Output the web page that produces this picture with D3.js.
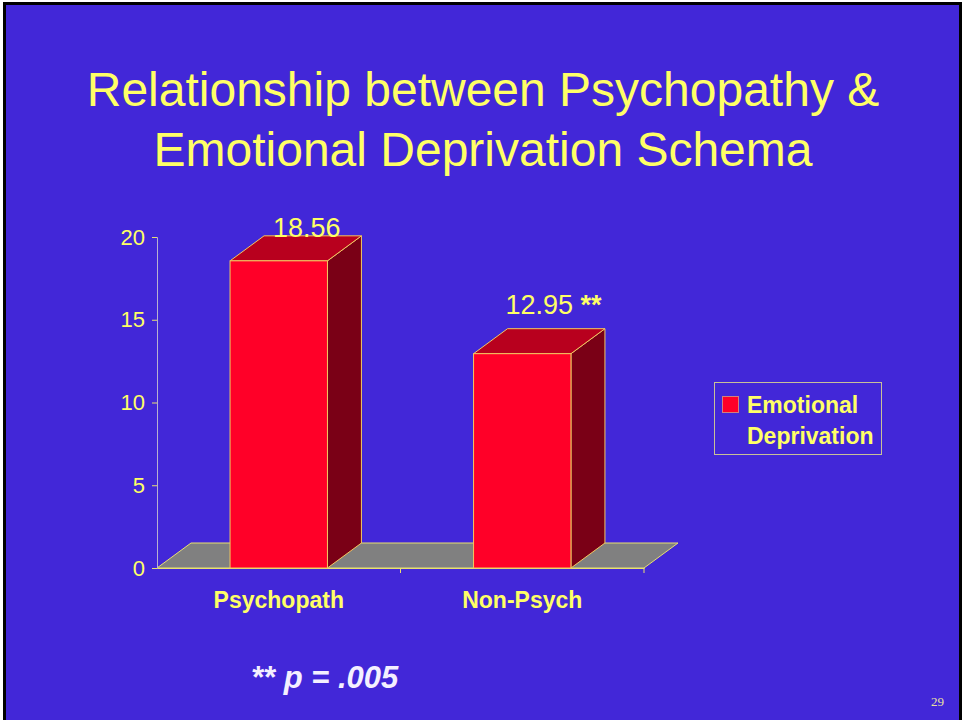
<!DOCTYPE html>
<html>
<head>
<meta charset="utf-8">
<script src="https://cdn.jsdelivr.net/npm/d3@7"></script>
<style>
  body { margin: 0; background: #fff; }
  svg { display: block; font-family: "Liberation Sans", Arial, sans-serif; }
</style>
</head>
<body>
<div id="chart"></div>
<script>
var categories = ["Psychopath", "Non-Psych"];
var values = [18.56, 12.95];
var valueLabels = ["18.56", "12.95"];
var sigMarks = ["", "**"];
var yTicks = [0, 5, 10, 15, 20];
var seriesName = ["Emotional", "Deprivation"];
var titleLines = ["Relationship between Psychopathy &", "Emotional Deprivation Schema"];
var footnote = "** p = .005";
var pageNumber = "29";

function init() {
    var w = 962;
    var h = 720;

    var yellow = "#ffff66";
    var edge = "#f2c860";
    var dx = 34, dy = -25;

    var svg = d3.select("#chart")
        .append("svg")
        .attr("width", w)
        .attr("height", h);

    // slide background with black frame
    svg.append("rect")
        .attr("x", 4.5).attr("y", 3.5)
        .attr("width", w - 6).attr("height", h)
        .attr("fill", "#4227d8")
        .attr("stroke", "#000")
        .attr("stroke-width", 3);

    // title
    svg.append("text")
        .attr("text-anchor", "middle")
        .attr("fill", yellow)
        .attr("font-size", 48)
        .selectAll("tspan")
        .data(titleLines)
        .enter()
        .append("tspan")
        .attr("x", 483)
        .attr("y", function(d, i) { return 106 + i * 60; })
        .text(function(d) { return d; });

    var xScale = d3.scaleBand()
        .domain(categories)
        .range([157, 644]);

    var yScale = d3.scaleLinear()
        .domain([0, 20])
        .range([568, 237]);

    var barW = xScale.bandwidth() * 0.4;
    var y0 = yScale(0);

    // floor
    svg.append("polygon")
        .attr("points", [
            [157, y0], [644, y0], [644 + dx, y0 + dy], [157 + dx, y0 + dy]
        ].join(" "))
        .attr("fill", "#808080")
        .attr("stroke", "#e8e070")
        .attr("stroke-width", 1);

    // y axis
    var yAxis = d3.axisLeft(yScale)
        .tickValues(yTicks)
        .tickSize(5)
        .tickPadding(7);

    var gy = svg.append("g")
        .attr("transform", "translate(157,0)")
        .call(yAxis);
    gy.select(".domain").attr("stroke", "#b8b0d0");
    gy.selectAll(".tick line").attr("stroke", "#e8e070");
    gy.selectAll(".tick text")
        .attr("fill", yellow)
        .attr("font-size", 22)
        .attr("font-family", "Liberation Sans, Arial, sans-serif");

    // x axis
    var xAxis = d3.axisBottom(xScale)
        .tickValues([])
        .tickSizeOuter(0);
    var gx = svg.append("g")
        .attr("transform", "translate(0," + y0 + ")")
        .call(xAxis);
    gx.select(".domain").attr("stroke", "#e8e070");
    gx.selectAll(".sep")
        .data(categories)
        .enter()
        .append("line")
        .attr("x1", function(d) { return xScale(d) + xScale.bandwidth(); })
        .attr("x2", function(d) { return xScale(d) + xScale.bandwidth(); })
        .attr("y1", 0).attr("y2", 5)
        .attr("stroke", "#e8e070");

    gx.selectAll(".cat")
        .data(categories)
        .enter()
        .append("text")
        .attr("x", function(d) { return xScale(d) + xScale.bandwidth() / 2; })
        .attr("y", 40)
        .attr("text-anchor", "middle")
        .attr("fill", yellow)
        .attr("font-size", 23)
        .attr("font-weight", "bold")
        .text(function(d) { return d; });

    // bars
    var bars = svg.selectAll(".bar")
        .data(values)
        .enter()
        .append("g")
        .attr("class", "bar");

    function x0(d, i) { return xScale(categories[i]) + (xScale.bandwidth() - barW) / 2; }

    bars.append("polygon")
        .attr("points", function(d, i) {
            var a = x0(d, i), b = a + barW, t = yScale(d);
            return [[b, t], [b + dx, t + dy], [b + dx, y0 + dy], [b, y0]].join(" ");
        })
        .attr("fill", "#7a0016")
        .attr("stroke", edge)
        .attr("stroke-width", 1);

    bars.append("polygon")
        .attr("points", function(d, i) {
            var a = x0(d, i), b = a + barW, t = yScale(d);
            return [[a, t], [a + dx, t + dy], [b + dx, t + dy], [b, t]].join(" ");
        })
        .attr("fill", "#b8001e")
        .attr("stroke", edge)
        .attr("stroke-width", 1);

    bars.append("rect")
        .attr("x", x0)
        .attr("y", function(d) { return yScale(d); })
        .attr("width", barW)
        .attr("height", function(d) { return y0 - yScale(d); })
        .attr("fill", "#ff0028")
        .attr("stroke", edge)
        .attr("stroke-width", 1);

    // value labels
    bars.each(function(d, i) {
        var g = d3.select(this);
        var cx = xScale(categories[i]) + xScale.bandwidth() / 2 + dx / 2;
        var ly = yScale(d) + dy - 15;
        if (ly < yScale(20)) {
            ly = yScale(20);
            cx += 11;
        }
        var t = g.append("text")
            .attr("y", ly)
            .attr("fill", yellow)
            .attr("font-size", 27)
            .text(valueLabels[i]);
        var tw = t.node().getComputedTextLength();
        t.attr("x", cx - tw / 2);
        if (sigMarks[i]) {
            t.append("tspan")
                .attr("font-weight", "bold")
                .text(" " + sigMarks[i]);
        }
    });

    // legend
    var lg = svg.append("g");
    lg.append("rect")
        .attr("x", 714.5).attr("y", 382.5)
        .attr("width", 167).attr("height", 72)
        .attr("fill", "none")
        .attr("stroke", "#c8c098")
        .attr("stroke-width", 1);
    lg.append("rect")
        .attr("x", 722.5).attr("y", 396.5)
        .attr("width", 16).attr("height", 16)
        .attr("fill", "#ff0028")
        .attr("stroke", "#d08080");
    lg.append("text")
        .attr("fill", yellow)
        .attr("font-size", 23)
        .attr("font-weight", "bold")
        .selectAll("tspan")
        .data(seriesName)
        .enter()
        .append("tspan")
        .attr("x", 747)
        .attr("y", function(d, i) { return 413 + i * 31; })
        .text(function(d) { return d; });

    // footnote
    svg.append("text")
        .attr("x", 251)
        .attr("y", 688)
        .attr("fill", "#f4f0ff")
        .attr("font-size", 31)
        .attr("font-weight", "bold")
        .attr("font-style", "italic")
        .text(footnote);

    svg.append("text")
        .attr("x", 944)
        .attr("y", 706)
        .attr("text-anchor", "end")
        .attr("fill", "#e8e0a0")
        .attr("font-size", 13)
        .attr("font-family", "Liberation Serif, serif")
        .text(pageNumber);
}

window.onload = init;
</script>
</body>
</html>
